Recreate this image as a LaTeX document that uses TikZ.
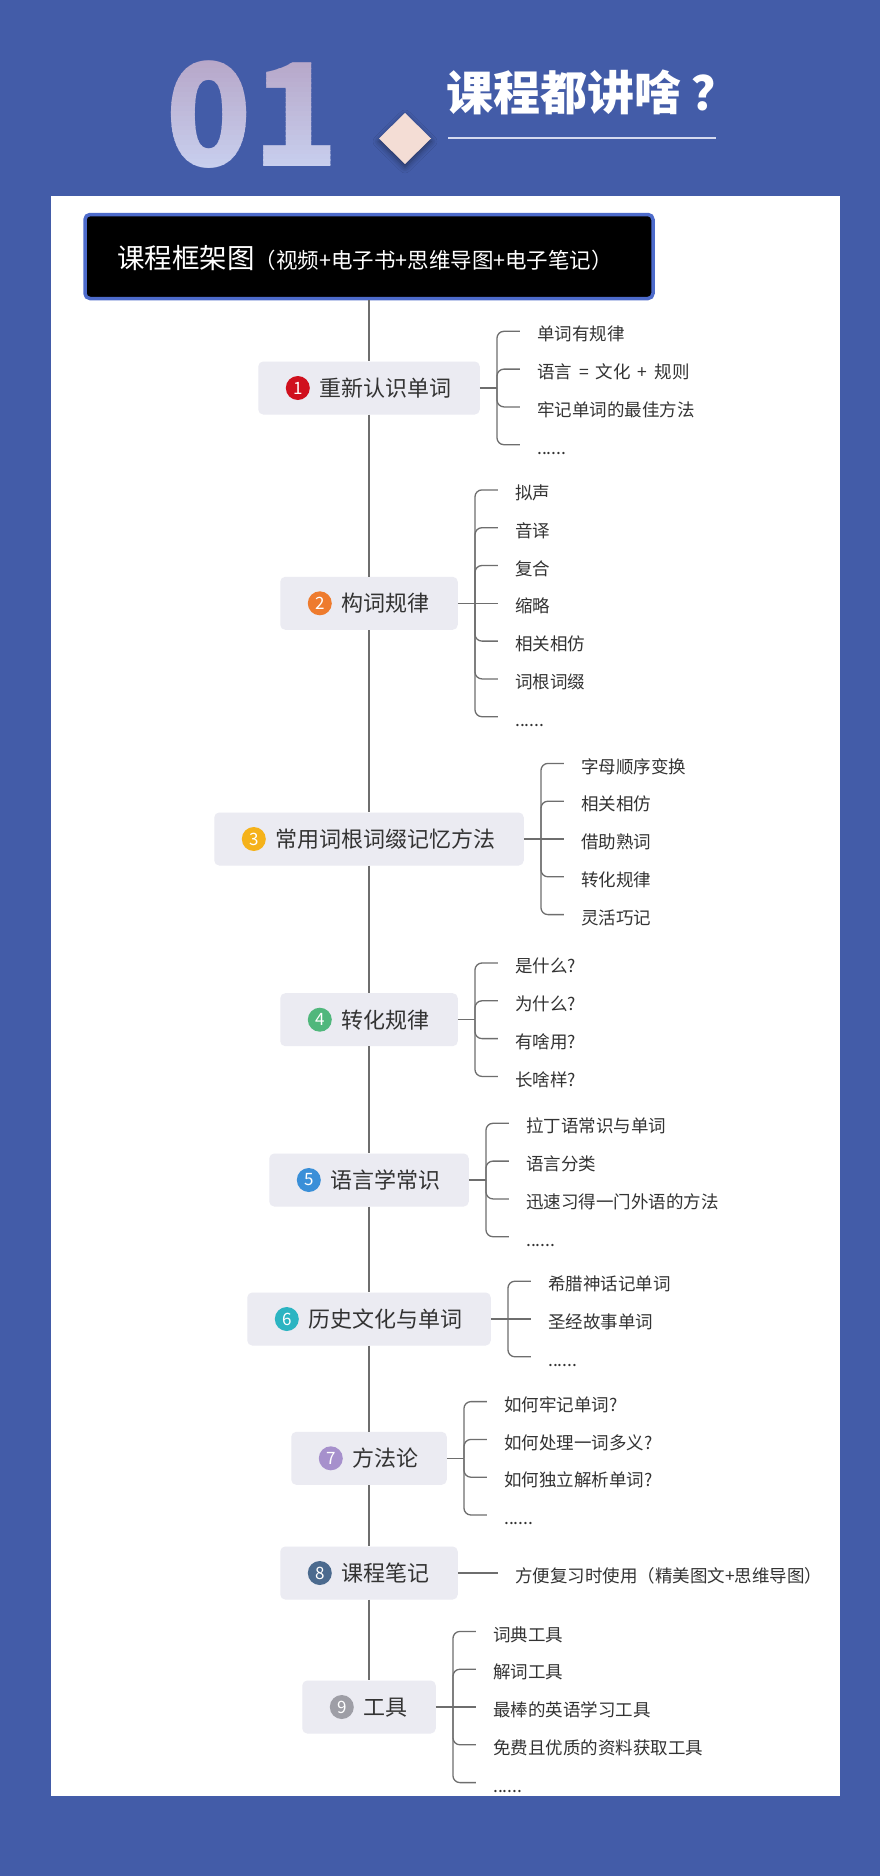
\documentclass[tikz,border=0pt]{standalone}
\usepackage{fontspec}
\setmainfont{Noto Sans CJK SC}
\usetikzlibrary{calc,shadows.blur}
\definecolor{bgblue}{HTML}{435CA8}
\definecolor{nodebg}{HTML}{EBEBF2}
\definecolor{textc}{HTML}{333333}
\definecolor{lineg}{HTML}{6E6E6E}
\definecolor{hdrborder}{HTML}{4D6BCB}
\definecolor{dtop}{HTML}{B6A5C7}
\definecolor{dbot}{HTML}{C8CFEE}
\definecolor{diam}{HTML}{F4DDD5}
\definecolor{uline}{HTML}{D5DAF0}
\definecolor{cA}{HTML}{D0101E}
\definecolor{cB}{HTML}{EE7B2E}
\definecolor{cC}{HTML}{F5B21A}
\definecolor{cD}{HTML}{50B77C}
\definecolor{cE}{HTML}{3A8FD8}
\definecolor{cF}{HTML}{2CB4C2}
\definecolor{cG}{HTML}{A690CC}
\definecolor{cH}{HTML}{4B6A8E}
\definecolor{cI}{HTML}{9E9EA6}
\newcommand\sixdots{......}
\newcommand\gp{\hspace{7pt}}
\tikzset{
  topic/.style={fill=nodebg, rounded corners=5pt, minimum height=53pt, inner xsep=28pt, inner ysep=0pt,
    text height=18.9pt, text depth=2.2pt, font=\fontsize{22}{24}\selectfont, text=textc},
  numc/.style={circle, minimum size=24pt, inner sep=0pt, text=white, font=\fontsize{17}{17}\selectfont},
  item/.style={anchor=west, inner xsep=17pt, inner ysep=0pt, text height=21pt, text depth=1.75pt,
    font=\fontsize{17.5}{20}\selectfont, text=textc},
  conn/.style={draw=lineg, line width=1.3pt},
  trunk/.style={draw=lineg, line width=1.5pt},
  digits/.style={anchor=base west, inner sep=0pt, font=\bfseries\fontsize{143}{150}\selectfont}
}
\newcommand\mmtopic[7]{%
  \node[topic] (#1) at (369,#2) {\hspace*{33.5pt}#5};
  \node[numc, fill=#3] (#1-num) at ([xshift=39.75pt]#1.west) {#4};
  \coordinate (#1-b) at ([xshift=17pt]#1.east);
  \draw[conn] (#1.east) -- (#1-b);
  \foreach \txt [count=\i] in {#7} {
    \pgfmathsetmacro\dy{(\i-1-(#6-1)/2)*37.8}
    \node[item] (#1-\i) at ($(#1-b)+(23,\dy)$) {\txt};
    \ifdim\dy pt=0pt
      \draw[conn] (#1-b) -- (#1-\i.west);
    \else
      \draw[conn, rounded corners=7pt] (#1-b) |- (#1-\i.west);
    \fi
  }
}
\begin{document}
\begin{tikzpicture}[x=1pt,y=-1pt]
\useasboundingbox (0,0) rectangle (880,1876);
\fill[bgblue] (0,0) rectangle (880,1876);
% big gradient "01"
\foreach \k in {0,...,23} {
  \pgfmathsetmacro\yA{54+\k*4.8}
  \pgfmathsetmacro\yB{\yA+5.2}
  \pgfmathsetmacro\pc{100*\k/23}
  \begin{scope}
    \clip (140,\yA) rectangle (345,\yB);
    \node[digits, text=dbot!\pc!dtop] (d\k) at (165,166) {01};
  \end{scope}
}
% diamond
\fill[diam, blur shadow={shadow xshift=0pt, shadow yshift=-3pt, shadow blur radius=6pt, shadow opacity=45}]
  (405,113) -- (431,138.5) -- (405,164) -- (379,138.5) -- cycle;
% title
\node[anchor=base west, inner sep=0pt, text=white, font=\bfseries\fontsize{47}{50}\selectfont] (title) at (446,110) {课程都讲啥\hspace{10pt}？};
\draw[uline, line width=1.3pt] (448,138) -- (716,138);
% white panel
\fill[white] (51,196) rectangle (840,1796);
% header
\node[fill=black, draw=hdrborder, line width=3.5pt, rounded corners=5pt, minimum width=568pt, minimum height=84pt, inner sep=0pt] (hdr) at (369,256.5) {};
\node[anchor=base west, inner sep=0pt, text=white] (hdrtext) at (117,268)
  {\fontsize{27.5}{30}\selectfont 课程框架图\fontsize{21.5}{24}\selectfont（视频+电子书+思维导图+电子笔记）};
% topics
\mmtopic{n1}{388}{cA}{1}{重新认识单词}{4}{单词有规律,语言\gp{}=\gp{}文化\gp{}+\gp{}规则,牢记单词的最佳方法,\sixdots}
\mmtopic{n2}{603.3}{cB}{2}{构词规律}{7}{拟声,音译,复合,缩略,相关相仿,词根词缀,\sixdots}
\mmtopic{n3}{839}{cC}{3}{常用词根词缀记忆方法}{5}{字母顺序变换,相关相仿,借助熟词,转化规律,灵活巧记}
\mmtopic{n4}{1019.7}{cD}{4}{转化规律}{4}{是什么?,为什么?,有啥用?,长啥样?}
\mmtopic{n5}{1180}{cE}{5}{语言学常识}{4}{拉丁语常识与单词,语言分类,迅速习得一门外语的方法,\sixdots}
\mmtopic{n6}{1319}{cF}{6}{历史文化与单词}{3}{希腊神话记单词,圣经故事单词,\sixdots}
\mmtopic{n7}{1458.3}{cG}{7}{方法论}{4}{如何牢记单词?,如何处理一词多义?,如何独立解析单词?,\sixdots}
\mmtopic{n8}{1573}{cH}{8}{课程笔记}{1}{方便复习时使用（精美图文+思维导图）}
\mmtopic{n9}{1707}{cI}{9}{工具}{5}{词典工具,解词工具,最棒的英语学习工具,免费且优质的资料获取工具,\sixdots}
% trunk
\draw[trunk] (hdr.south) -- (n1.north);
\draw[trunk] (n1.south) -- (n2.north);
\draw[trunk] (n2.south) -- (n3.north);
\draw[trunk] (n3.south) -- (n4.north);
\draw[trunk] (n4.south) -- (n5.north);
\draw[trunk] (n5.south) -- (n6.north);
\draw[trunk] (n6.south) -- (n7.north);
\draw[trunk] (n7.south) -- (n8.north);
\draw[trunk] (n8.south) -- (n9.north);
\end{tikzpicture}
\end{document}
